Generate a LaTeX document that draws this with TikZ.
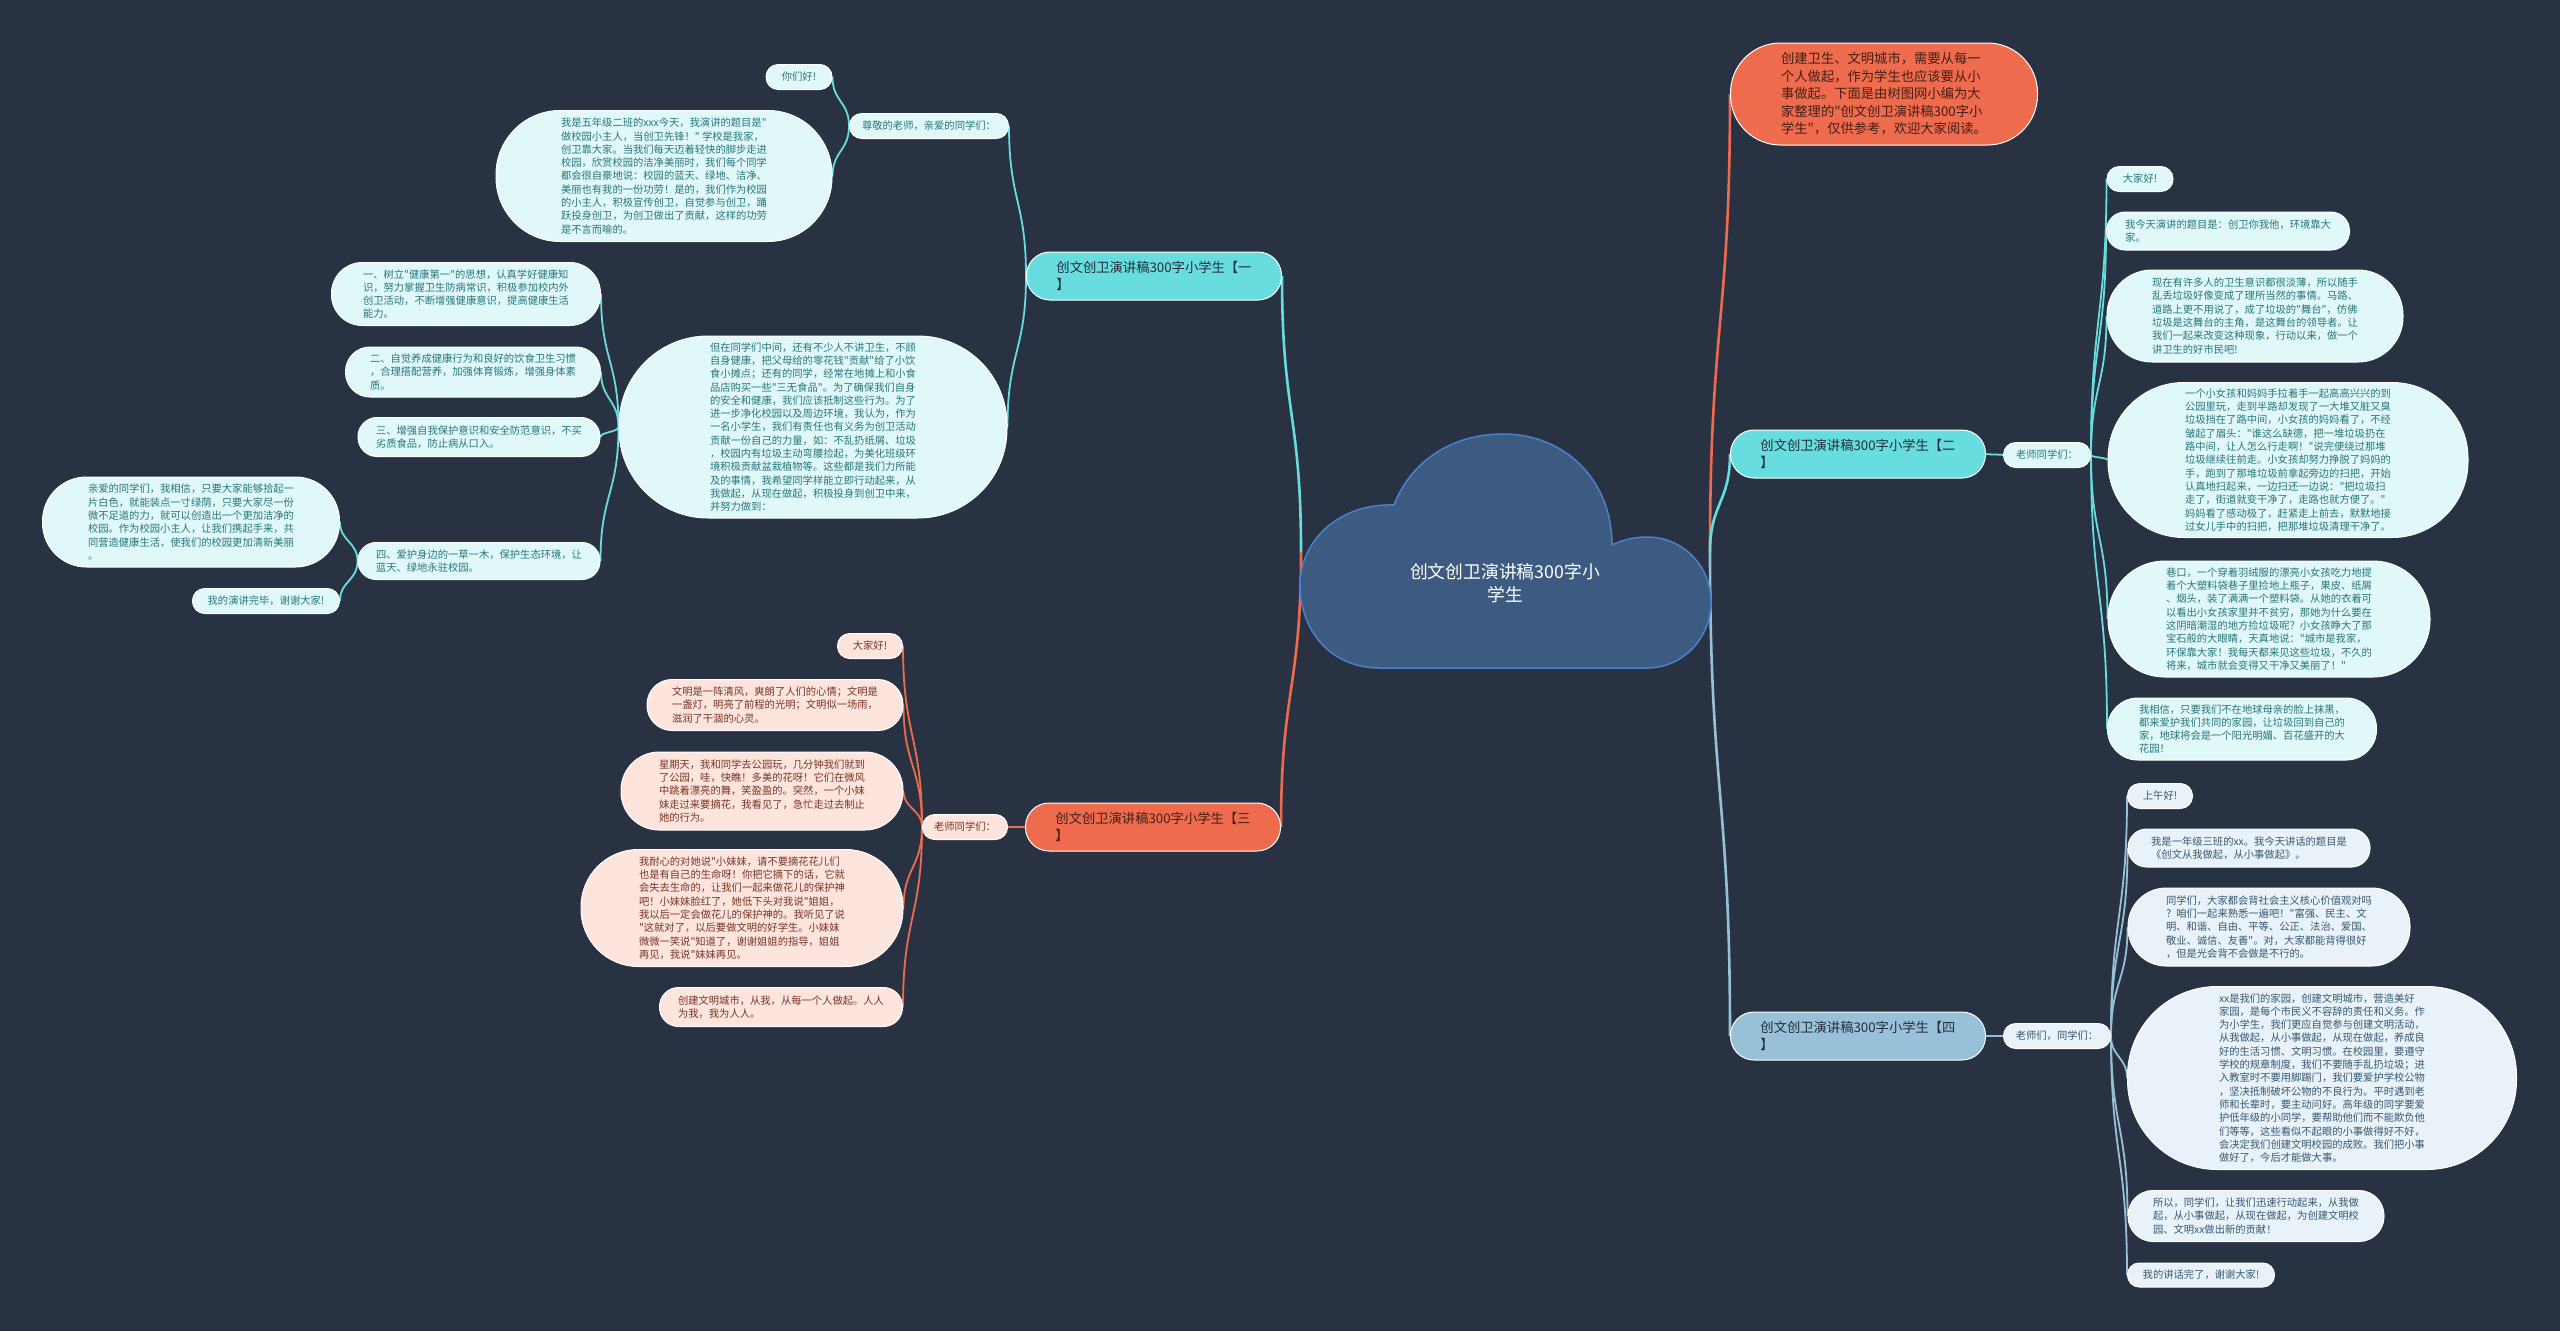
\documentclass[tikz,border=0pt]{standalone}
\usepackage{fontspec}
\setmainfont{Noto Sans CJK SC}[Ligatures=TeXOff]
\usetikzlibrary{calc}
\pgfdeclarelayer{bottom}
\pgfdeclarelayer{lines}
\pgfsetlayers{bottom,lines,main}
\definecolor{bgc}{RGB}{41,50,66}
\definecolor{cyanM}{RGB}{103,221,224}
\definecolor{cyanL}{RGB}{224,248,248}
\definecolor{cyanT}{RGB}{38,118,124}
\definecolor{orgM}{RGB}{238,108,77}
\definecolor{orgL}{RGB}{253,228,220}
\definecolor{orgT}{RGB}{120,52,38}
\definecolor{orgD}{RGB}{70,30,22}
\definecolor{bluM}{RGB}{152,193,217}
\definecolor{bluL}{RGB}{233,242,248}
\definecolor{bluT}{RGB}{52,88,115}
\definecolor{darkT}{RGB}{38,44,56}
\definecolor{cloudF}{RGB}{61,91,129}
\definecolor{cloudB}{RGB}{74,128,208}
\tikzset{
  pill/.style 2 args={rectangle, draw=white, line width=1pt, minimum width=#1pt, minimum height=#2pt, rounded corners={#2*0.49pt}, inner sep=1pt, align=left},
  txs/.style={font=\fontsize{10.3}{13.3}\selectfont},
  txb/.style={font=\fontsize{13.3}{17.6}\selectfont},
  cyk/.style={txs, fill=cyanL, text=cyanT},
  ork/.style={txs, fill=orgL, text=orgT},
  blk/.style={txs, fill=bluL, text=bluT},
  cyb/.style={txb, fill=cyanM, text=darkT},
  orb/.style={txb, fill=orgM, text=orgD},
  blb/.style={txb, fill=bluM, text=darkT},
  conn/.style={to path={.. controls ($(\tikztostart)!0.5!(\tikztostart|-\tikztotarget)$) and ($(\tikztotarget)!0.5!(\tikztotarget|-\tikztostart)$) .. (\tikztotarget)}},
  cymain/.style={draw=cyanM, line width=2.6pt, conn},
  ormain/.style={draw=orgM, line width=2.6pt, conn},
  blmain/.style={draw=bluM, line width=2.6pt, conn},
  cyline/.style={draw=cyanM, line width=1.8pt, conn},
  orline/.style={draw=orgM, line width=1.8pt, conn},
  blline/.style={draw=bluM, line width=1.8pt, conn},
}
\begin{document}
\begin{tikzpicture}[x=1pt,y=-1pt]
\begin{pgfonlayer}{bottom}
\fill[bgc] (0,0) rectangle (2560,1331);
\end{pgfonlayer}
\useasboundingbox (0,0) rectangle (2560,1331);

% central cloud
\filldraw[fill=cloudF, draw=cloudB, line width=1.5pt]
  (1380,668) .. controls (1330,668) and (1300,630) .. (1300,585)
  .. controls (1300,540) and (1340,503) .. (1394,505)
  .. controls (1410,463) and (1450,434) .. (1503,434)
  .. controls (1565,434) and (1612,480) .. (1612,545)
  .. controls (1622,540) and (1634,537) .. (1647,537)
  .. controls (1683,537) and (1711,566) .. (1711,602)
  .. controls (1711,638) and (1683,668) .. (1647,668) -- cycle;
\node[font=\fontsize{17.8}{23.3}\selectfont, text=white, align=center] (root) at (1505,583) {创文创卫演讲稿300字小\\学生};
\coordinate (cl) at (1301,552);
\coordinate (cr) at (1710,552);

% top note
\node[orb, pill={307}{102}, font=\fontsize{13.3}{17.5}\selectfont] (t0) at (1884,94) {创建卫生、文明城市，需要从每一\\个人做起，作为学生也应该要从小\\事做起。下面是由树图网小编为大\\家整理的"创文创卫演讲稿300字小\\学生"，仅供参考，欢迎大家阅读。};

% branch 1
\node[cyb, pill={255}{48}] (n1) at (1154,276) {创文创卫演讲稿300字小学生【一\\】};
\node[cyk, pill={159}{25}] (a1) at (929,126) {尊敬的老师，亲爱的同学们：};
\node[cyk, pill={66}{25}] (a1a) at (799,77) {你们好!};
\node[cyk, pill={336}{131}] (a1b) at (664,176) {我是五年级二班的xxx今天，我演讲的题目是"\\做校园小主人，当创卫先锋！" 学校是我家，\\创卫靠大家。当我们每天迈着轻快的脚步走进\\校园，欣赏校园的洁净美丽时，我们每个同学\\都会很自豪地说：校园的蓝天、绿地、洁净、\\美丽也有我的一份功劳！是的，我们作为校园\\的小主人，积极宣传创卫，自觉参与创卫，踊\\跃投身创卫，为创卫做出了贡献，这样的功劳\\是不言而喻的。};
\node[cyk, pill={388}{182}] (a2) at (813,427) {但在同学们中间，还有不少人不讲卫生，不顾\\自身健康，把父母给的零花钱"贡献"给了小饮\\食小摊点；还有的同学，经常在地摊上和小食\\品店购买一些"三无食品"。为了确保我们自身\\的安全和健康，我们应该抵制这些行为。为了\\进一步净化校园以及周边环境，我认为，作为\\一名小学生，我们有责任也有义务为创卫活动\\贡献一份自己的力量，如：不乱扔纸屑、垃圾\\，校园内有垃圾主动弯腰捡起，为美化班级环\\境积极贡献盆栽植物等。这些都是我们力所能\\及的事情，我希望同学样能立即行动起来，从\\我做起，从现在做起，积极投身到创卫中来，\\并努力做到：};
\node[cyk, pill={269}{63}] (a2a) at (466,294) {一、树立"健康第一"的思想，认真学好健康知\\识，努力掌握卫生防病常识，积极参加校内外\\创卫活动，不断增强健康意识，提高健康生活\\能力。};
\node[cyk, pill={255}{50}] (a2b) at (473,372) {二、自觉养成健康行为和良好的饮食卫生习惯\\，合理搭配营养，加强体育锻炼，增强身体素\\质。};
\node[cyk, pill={242}{39}] (a2c) at (479,437) {三、增强自我保护意识和安全防范意识，不买\\劣质食品，防止病从口入。};
\node[cyk, pill={242}{37}] (a2d) at (479,561) {四、爱护身边的一草一木，保护生态环境，让\\蓝天、绿地永驻校园。};
\node[cyk, pill={297}{90}] (a2d1) at (191,522) {亲爱的同学们，我相信，只要大家能够拾起一\\片白色，就能装点一寸绿荫，只要大家尽一份\\微不足道的力，就可以创造出一个更加洁净的\\校园。作为校园小主人，让我们携起手来，共\\同营造健康生活，使我们的校园更加清新美丽\\。};
\node[cyk, pill={147}{25}] (a2d2) at (266,601) {我的演讲完毕，谢谢大家!};

% branch 3
\node[orb, pill={255}{48}] (n3) at (1153,827) {创文创卫演讲稿300字小学生【三\\】};
\node[ork, pill={85}{25}] (c1) at (965,827) {老师同学们：};
\node[ork, pill={65}{25}] (c1a) at (870,646) {大家好!};
\node[ork, pill={256}{51}] (c1b) at (775,705) {文明是一阵清风，爽朗了人们的心情；文明是\\一盏灯，明亮了前程的光明；文明似一场雨，\\滋润了干涸的心灵。};
\node[ork, pill={282}{78}] (c1c) at (762,791) {星期天，我和同学去公园玩，几分钟我们就到\\了公园，哇，快瞧！多美的花呀！它们在微风\\中跳着漂亮的舞，笑盈盈的。突然，一个小妹\\妹走过来要摘花，我看见了，急忙走过去制止\\她的行为。};
\node[ork, pill={322}{117}] (c1d) at (742,908) {我耐心的对她说"小妹妹，请不要摘花花儿们\\也是有自己的生命呀！你把它摘下的话，它就\\会失去生命的，让我们一起来做花儿的保护神\\吧！小妹妹脸红了，她低下头对我说"姐姐，\\我以后一定会做花儿的保护神的。我听见了说\\"这就对了，以后要做文明的好学生。小妹妹\\微微一笑说"知道了，谢谢姐姐的指导，姐姐\\再见，我说"妹妹再见。};
\node[ork, pill={243}{39}] (c1e) at (781,1007) {创建文明城市，从我，从每一个人做起。人人\\为我，我为人人。};

% branch 2
\node[cyb, pill={255}{48}] (n2) at (1858,454) {创文创卫演讲稿300字小学生【二\\】};
\node[cyk, pill={87}{25}] (b1) at (2047,455) {老师同学们：};
\node[cyk, pill={66}{25}] (b1a) at (2140,179) {大家好!};
\node[cyk, pill={243}{38}] (b1b) at (2228,231) {我今天演讲的题目是：创卫你我他，环境靠大\\家。};
\node[cyk, pill={296}{92}] (b1c) at (2255,316) {现在有许多人的卫生意识都很淡薄，所以随手\\乱丢垃圾好像变成了理所当然的事情。马路、\\道路上更不用说了，成了垃圾的"舞台"，仿佛\\垃圾是这舞台的主角，是这舞台的领导者。让\\我们一起来改变这种现象，行动以来，做一个\\讲卫生的好市民吧!};
\node[cyk, pill={360}{155}] (b1d) at (2288,460) {一个小女孩和妈妈手拉着手一起高高兴兴的到\\公园里玩，走到半路却发现了一大堆又脏又臭\\垃圾挡在了路中间，小女孩的妈妈看了，不经\\皱起了眉头："谁这么缺德，把一堆垃圾扔在\\路中间，让人怎么行走啊！"说完便绕过那堆\\垃圾继续往前走。小女孩却努力挣脱了妈妈的\\手，跑到了那堆垃圾前拿起旁边的扫把，开始\\认真地扫起来，一边扫还一边说："把垃圾扫\\走了，街道就变干净了，走路也就方便了。"\\妈妈看了感动极了，赶紧走上前去，默默地接\\过女儿手中的扫把，把那堆垃圾清理干净了。};
\node[cyk, pill={322}{116}] (b1e) at (2269,619) {巷口，一个穿着羽绒服的漂亮小女孩吃力地提\\着个大塑料袋巷子里捡地上瓶子，果皮、纸屑\\、烟头，装了满满一个塑料袋。从她的衣着可\\以看出小女孩家里并不贫穷，那她为什么要在\\这阴暗潮湿的地方捡垃圾呢？小女孩睁大了那\\宝石般的大眼睛，天真地说："城市是我家，\\环保靠大家！我每天都来见这些垃圾，不久的\\将来，城市就会变得又干净又美丽了！"};
\node[cyk, pill={269}{62}] (b1f) at (2242,729) {我相信，只要我们不在地球母亲的脸上抹黑，\\都来爱护我们共同的家园，让垃圾回到自己的\\家，地球将会是一个阳光明媚、百花盛开的大\\花园！};

% branch 4
\node[blb, pill={255}{48}] (n4) at (1858,1036) {创文创卫演讲稿300字小学生【四\\】};
\node[blk, pill={107}{25}] (d1) at (2057,1036) {老师们，同学们：};
\node[blk, pill={65}{25}] (d1a) at (2160,796) {上午好!};
\node[blk, pill={242}{38}] (d1b) at (2249,848) {我是一年级三班的xx。我今天讲话的题目是\\《创文从我做起，从小事做起》。};
\node[blk, pill={282}{78}] (d1c) at (2269,927) {同学们，大家都会背社会主义核心价值观对吗\\？咱们一起来熟悉一遍吧！"富强、民主、文\\明、和谐、自由、平等、公正、法治、爱国、\\敬业、诚信、友善"。对，大家都能背得很好\\，但是光会背不会做是不行的。};
\node[blk, pill={389}{183}] (d1d) at (2322,1078) {xx是我们的家园，创建文明城市，营造美好\\家园，是每个市民义不容辞的责任和义务。作\\为小学生，我们更应自觉参与创建文明活动，\\从我做起，从小事做起，从现在做起，养成良\\好的生活习惯、文明习惯。在校园里，要遵守\\学校的规章制度，我们不要随手乱扔垃圾；进\\入教室时不要用脚踢门，我们要爱护学校公物\\，坚决抵制破坏公物的不良行为。平时遇到老\\师和长辈时，要主动问好。高年级的同学要爱\\护低年级的小同学，要帮助他们而不能欺负他\\们等等，这些看似不起眼的小事做得好不好，\\会决定我们创建文明校园的成败。我们把小事\\做好了，今后才能做大事。};
\node[blk, pill={256}{51}] (d1e) at (2256,1216) {所以，同学们，让我们迅速行动起来，从我做\\起，从小事做起，从现在做起，为创建文明校\\园、文明xx做出新的贡献！};
\node[blk, pill={147}{24}] (d1f) at (2201,1275) {我的讲话完了，谢谢大家!};

\begin{pgfonlayer}{lines}
\draw[cymain] (cl) to (n1.east);
\draw[ormain] (cl) to (n3.east);
\draw[ormain] (cr) to (t0.west);
\draw[cymain] (cr) to (n2.west);
\draw[blmain] (cr) to (n4.west);
% branch 1
\draw[cyline] (n1.west) to (a1.east);
\draw[cyline] (n1.west) to (a2.east);
\draw[cyline] (a1.west) to (a1a.east);
\draw[cyline] (a1.west) to (a1b.east);
\draw[cyline] (a2.west) to (a2a.east);
\draw[cyline] (a2.west) to (a2b.east);
\draw[cyline] (a2.west) to (a2c.east);
\draw[cyline] (a2.west) to (a2d.east);
\draw[cyline] (a2d.west) to (a2d1.east);
\draw[cyline] (a2d.west) to (a2d2.east);
% branch 3
\draw[orline] (n3.west) to (c1.east);
\draw[orline] (c1.west) to (c1a.east);
\draw[orline] (c1.west) to (c1b.east);
\draw[orline] (c1.west) to (c1c.east);
\draw[orline] (c1.west) to (c1d.east);
\draw[orline] (c1.west) to (c1e.east);
% branch 2
\draw[cyline] (n2.east) to (b1.west);
\draw[cyline] (b1.east) to (b1a.west);
\draw[cyline] (b1.east) to (b1b.west);
\draw[cyline] (b1.east) to (b1c.west);
\draw[cyline] (b1.east) to (b1d.west);
\draw[cyline] (b1.east) to (b1e.west);
\draw[cyline] (b1.east) to (b1f.west);
% branch 4
\draw[blline] (n4.east) to (d1.west);
\draw[blline] (d1.east) to (d1a.west);
\draw[blline] (d1.east) to (d1b.west);
\draw[blline] (d1.east) to (d1c.west);
\draw[blline] (d1.east) to (d1d.west);
\draw[blline] (d1.east) to (d1e.west);
\draw[blline] (d1.east) to (d1f.west);
\end{pgfonlayer}
\end{tikzpicture}
\end{document}
